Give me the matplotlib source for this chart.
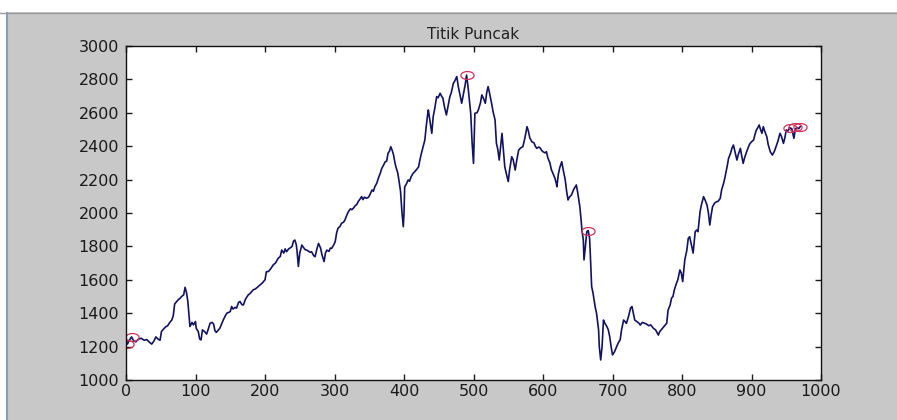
import numpy as np
import matplotlib
matplotlib.use('Agg')
import matplotlib.pyplot as plt
from matplotlib.path import Path
from matplotlib.patches import Rectangle

# series (index, value)
idx = [1, 2, 5, 8, 11, 14, 18, 22, 26, 30, 34, 37, 40, 43, 46, 49, 51, 54, 57, 60, 63, 66, 68, 70, 73, 75, 78, 80,
       83, 85, 87, 89, 90, 92, 95, 97, 100, 101, 104, 106, 108, 110, 113, 116, 118, 121, 124, 126, 128, 130, 133,
       135, 138, 140, 143, 145, 148, 150, 152, 154, 157, 159, 162, 164, 167, 169, 172, 176, 179, 183, 186, 189,
       193, 196, 200, 202, 205, 208, 212, 215, 219, 222, 224, 227, 229, 231, 234, 236, 239, 241, 243, 245, 246,
       248, 250, 253, 256, 258, 260, 263, 265, 267, 270, 272, 275, 277, 280, 282, 285, 287, 289, 292, 294, 296,
       299, 301, 303, 305, 308, 310, 313, 315, 318, 320, 323, 325, 327, 330, 332, 334, 337, 339, 341, 343, 346,
       349, 351, 354, 356, 358, 361, 363, 366, 368, 371, 373, 375, 377, 379, 381, 383, 385, 387, 389, 391, 393,
       395, 397, 398, 399, 400, 401, 403, 406, 408, 410, 413, 416, 419, 421, 423, 425, 427, 430, 432, 434, 435,
       437, 440, 442, 444, 447, 449, 452, 454, 456, 458, 461, 463, 466, 468, 471, 473, 476, 478, 481, 483, 485,
       488, 490, 492, 494, 496, 498, 500, 501, 502, 505, 507, 510, 512, 515, 517, 519, 521, 523, 526, 528, 531,
       533, 535, 537, 539, 541, 543, 545, 547, 550, 552, 555, 557, 560, 562, 565, 568, 571, 574, 577, 579, 581,
       584, 587, 589, 591, 594, 596, 598, 600, 603, 605, 607, 610, 612, 615, 617, 619, 620, 622, 624, 627, 629,
       632, 634, 636, 638, 641, 644, 648, 650, 653, 655, 656, 658, 659, 661, 663, 665, 667, 668, 670, 672, 675,
       677, 680, 681, 683, 685, 687, 689, 692, 694, 696, 698, 700, 703, 706, 708, 711, 713, 716, 718, 720, 723,
       726, 728, 730, 732, 735, 738, 740, 743, 746, 749, 752, 755, 759, 762, 764, 766, 768, 771, 774, 776, 778,
       780, 783, 785, 787, 789, 792, 794, 797, 799, 801, 804, 807, 809, 811, 813, 815, 816, 819, 821, 823, 826,
       828, 831, 833, 836, 838, 840, 842, 844, 847, 850, 852, 855, 857, 860, 862, 865, 867, 870, 872, 874, 876,
       879, 881, 884, 886, 888, 890, 893, 896, 898, 901, 903, 905, 907, 909, 911, 913, 915, 917, 919, 922, 924,
       927, 930, 933, 936, 938, 941, 943, 946, 948, 950, 952, 955, 958, 961, 963, 965, 968, 970]
harga = [1230, 1215, 1240, 1258, 1235, 1228, 1245, 1250, 1238, 1242, 1225, 1215, 1232, 1258, 1245, 1238, 1290,
         1305, 1318, 1325, 1345, 1360, 1385, 1455, 1470, 1480, 1490, 1500, 1510, 1555, 1525, 1470, 1420, 1320,
         1345, 1330, 1350, 1310, 1290, 1245, 1240, 1300, 1290, 1275, 1300, 1340, 1345, 1335, 1295, 1285, 1300,
         1310, 1340, 1360, 1385, 1400, 1405, 1410, 1440, 1425, 1435, 1430, 1465, 1470, 1450, 1450, 1485, 1510,
         1520, 1540, 1545, 1555, 1570, 1580, 1600, 1648, 1650, 1665, 1690, 1700, 1729, 1740, 1778, 1760, 1785,
         1768, 1785, 1790, 1800, 1832, 1838, 1810, 1778, 1680, 1760, 1808, 1790, 1780, 1778, 1770, 1765, 1768,
         1745, 1738, 1790, 1818, 1790, 1749, 1709, 1760, 1778, 1770, 1790, 1788, 1810, 1828, 1880, 1908, 1920,
         1938, 1945, 1958, 1990, 2008, 2025, 2020, 2028, 2045, 2050, 2068, 2085, 2098, 2080, 2095, 2088, 2095,
         2110, 2138, 2130, 2157, 2180, 2207, 2240, 2267, 2290, 2307, 2310, 2357, 2370, 2397, 2375, 2347, 2300,
         2267, 2240, 2188, 2130, 2008, 1960, 1918, 2000, 2157, 2170, 2198, 2190, 2215, 2237, 2250, 2265, 2277,
         2320, 2357, 2390, 2437, 2520, 2590, 2617, 2560, 2477, 2577, 2620, 2697, 2690, 2717, 2700, 2687, 2640,
         2587, 2630, 2697, 2720, 2777, 2790, 2817, 2760, 2697, 2657, 2700, 2767, 2826, 2760, 2677, 2597, 2420,
         2297, 2450, 2597, 2600, 2617, 2660, 2707, 2680, 2657, 2720, 2757, 2720, 2657, 2610, 2557, 2417, 2380,
         2317, 2400, 2477, 2380, 2277, 2240, 2188, 2260, 2337, 2320, 2257, 2310, 2377, 2390, 2397, 2450, 2517,
         2490, 2450, 2427, 2420, 2400, 2387, 2395, 2389, 2375, 2367, 2360, 2367, 2330, 2299, 2260, 2230, 2210,
         2180, 2157, 2230, 2270, 2307, 2260, 2198, 2130, 2078, 2095, 2108, 2140, 2168, 2120, 2038, 1950, 1898,
         1838, 1719, 1800, 1888, 1895, 1850, 1760, 1559, 1520, 1439, 1400, 1299, 1200, 1120, 1200, 1359, 1340,
         1319, 1300, 1259, 1200, 1150, 1170, 1200, 1220, 1240, 1300, 1359, 1350, 1339, 1380, 1431, 1440, 1400,
         1359, 1350, 1340, 1329, 1345, 1340, 1335, 1325, 1330, 1309, 1300, 1285, 1269, 1290, 1305, 1320, 1329,
         1340, 1419, 1450, 1491, 1500, 1540, 1579, 1600, 1659, 1640, 1589, 1719, 1778, 1848, 1858, 1820, 1778,
         1760, 1888, 1898, 1888, 2008, 2050, 2098, 2080, 2048, 2000, 1928, 1990, 2038, 2060, 2068, 2070, 2088,
         2138, 2180, 2217, 2280, 2327, 2360, 2390, 2407, 2370, 2317, 2350, 2387, 2340, 2297, 2330, 2367, 2400,
         2417, 2430, 2437, 2470, 2497, 2510, 2527, 2500, 2477, 2517, 2490, 2457, 2410, 2367, 2347, 2370, 2407,
         2430, 2477, 2460, 2417, 2450, 2497, 2490, 2510, 2505, 2447, 2500, 2512, 2505, 2517]

# detected peaks
puncak_x = [2, 8, 490, 665, 955, 962, 970]
puncak_y = [1215, 1258, 2826, 1895, 2510, 2512, 2517]

x_ticks = [0, 100, 200, 300, 400, 500, 600, 700, 800, 900, 1000]
y_ticks = [1000, 1200, 1400, 1600, 1800, 2000, 2200, 2400, 2600, 2800, 3000]

plt.rcParams['font.family'] = ['DejaVu Sans']

fig = plt.figure(figsize=(8.97, 4.2), dpi=100)
fig.patch.set_facecolor('#c8c8c8')

# window frame bits (white strips on top and left)
fig.add_artist(Rectangle((0, 1 - 12 / 420), 1, 12 / 420, transform=fig.transFigure,
                         facecolor='white', edgecolor='none'))
fig.add_artist(Rectangle((0, 0), 6 / 897, 1 - 12 / 420, transform=fig.transFigure,
                         facecolor='white', edgecolor='none'))
fig.add_artist(plt.Line2D([0, 1], [1 - 13 / 420] * 2, transform=fig.transFigure, color='#9a9a9a', lw=1))
fig.add_artist(plt.Line2D([7 / 897] * 2, [0, 1 - 13 / 420], transform=fig.transFigure, color='#8c9cb0', lw=1.5))

ax = fig.add_axes([126 / 897, 1 - 380 / 420, 695 / 897, 334 / 420])
ax.plot(idx, harga, color='#121262', lw=1.2)

# slightly flattened circle marker
t = np.linspace(0, 2 * np.pi, 50)
ellipse = Path(np.column_stack([np.cos(t), 0.6 * np.sin(t)]))
ax.plot(puncak_x, puncak_y, linestyle='none', marker=ellipse, markersize=9.5,
        markerfacecolor='none', markeredgecolor='#d0305a', markeredgewidth=0.9)

ax.set_xlim(0, 1000)
ax.set_ylim(1000, 3000)
ax.set_xticks(x_ticks)
ax.set_yticks(y_ticks)
ax.tick_params(direction='in', length=4, width=1, top=True, right=True, labelsize=11.5,
               colors='#1a1a1a')
ax.tick_params(axis='x', pad=3)
ax.tick_params(axis='y', pad=5)
for s in ax.spines.values():
    s.set_linewidth(1)
    s.set_color('#111111')
ax.set_title('Titik Puncak', fontsize=11, color='#222222', pad=5)

fig.savefig('out.png', dpi=100, facecolor=fig.get_facecolor())
